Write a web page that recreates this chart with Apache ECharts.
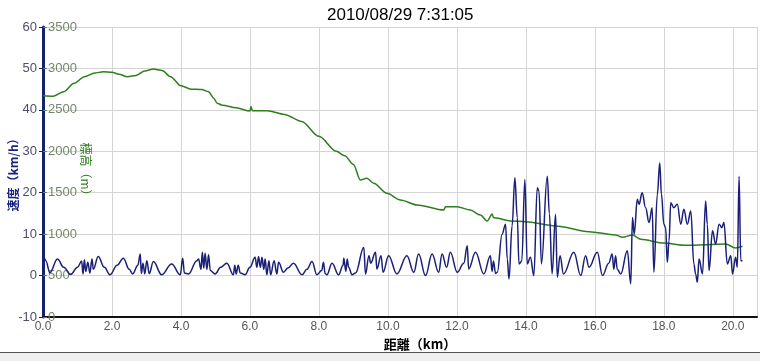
<!DOCTYPE html>
<html>
<head>
<meta charset="utf-8">
<title>速度・標高</title>
<script src="https://cdn.jsdelivr.net/npm/echarts@6/dist/echarts.min.js"></script>
<style>
    html, body { margin: 0; padding: 0; background: #fff; }
    #chart { width: 760px; height: 361px; }
</style>
</head>
<body>
<div id="chart"></div>
<script>
// 距離 (km) と標高 (m)
const elevKm = [0, 0.3, 0.6, 0.9, 1.2, 1.5, 1.75, 2.0, 2.2, 2.45, 2.7, 2.95, 3.2, 3.45, 3.7, 4.0, 4.3, 4.6, 4.8, 4.95,
    5.05, 5.2, 5.6, 6.0, 6.03, 6.07, 6.5, 7.0, 7.5, 8.0, 8.5, 8.75, 9.0, 9.2, 9.39, 9.59, 9.97, 10.36, 10.85, 11.62,
    11.67, 12.01, 12.39, 12.68, 12.88, 13.02, 13.06, 13.12, 13.55, 13.99, 14.86, 15.83, 16.6, 16.8, 17.09, 17.33,
    18.0, 18.63, 19.79, 20.08, 20.28];
const elevM = [2670, 2665, 2720, 2820, 2900, 2945, 2960, 2955, 2930, 2900, 2915, 2970, 2993, 2975, 2900, 2790, 2750, 2745, 2720, 2640,
    2580, 2555, 2525, 2485, 2540, 2490, 2490, 2445, 2360, 2180, 2000, 1945, 1840, 1654, 1674, 1614, 1493, 1412, 1352, 1291,
    1331, 1331, 1291, 1231, 1159, 1243, 1200, 1195, 1160, 1150, 1099, 1030, 991, 962, 991, 938,
    893, 865, 881, 833, 853];

// 距離 (km) と速度 (km/h)
const speedKm = [0.0, 0.02, 0.04, 0.08, 0.2, 0.42, 0.6, 0.8, 1.0, 1.12, 1.16, 1.2, 1.24, 1.3, 1.36, 1.42, 1.46, 1.6, 1.78, 1.94,
    2.15, 2.33, 2.5, 2.6, 2.75, 2.82, 2.85, 2.9, 2.95, 3.01, 3.08, 3.2, 3.44, 3.73, 3.98, 4.05, 4.1, 4.22, 4.46,
    4.51, 4.58, 4.62, 4.66, 4.7, 4.75, 4.8, 4.85, 4.99, 5.15, 5.33, 5.52, 5.56, 5.6, 5.66, 5.72, 5.86, 6.0,
    6.15, 6.2, 6.25, 6.3, 6.35, 6.4, 6.44, 6.49, 6.55, 6.6, 6.7, 6.78, 6.83, 6.97, 7.1, 7.26, 7.51, 7.65, 7.8,
    7.94, 8.08, 8.13, 8.18, 8.23, 8.38, 8.57, 8.7, 8.72, 8.78, 8.82, 8.86, 8.96,
    9.06, 9.3, 9.35, 9.45, 9.5, 9.64, 9.68, 9.8, 9.86, 10.02, 10.26, 10.55, 10.75, 10.89, 11.09, 11.28, 11.47,
    11.57, 11.7, 11.81, 12.01, 12.2, 12.3, 12.34, 12.54, 12.78, 12.97, 13.02, 13.06, 13.12, 13.17, 13.31, 13.41,
    13.46, 13.51, 13.6, 13.68, 13.75, 13.8, 13.88, 13.97, 14.04, 14.13, 14.23, 14.33, 14.38, 14.45, 14.62, 14.68,
    14.76, 14.86, 14.91, 14.99, 15.09, 15.39, 15.59, 15.73, 15.83, 16.07, 16.22, 16.4, 16.5, 16.55, 16.6, 16.65,
    16.75, 16.94, 17.04, 17.09, 17.14, 17.23, 17.28, 17.37, 17.47, 17.57, 17.66, 17.71, 17.81, 17.88, 17.93, 18.0,
    18.05, 18.1, 18.15, 18.2, 18.29, 18.39, 18.49, 18.58, 18.68, 18.78, 18.87, 18.92, 18.97, 19.02, 19.12, 19.21,
    19.26, 19.31, 19.41, 19.5, 19.6, 19.68, 19.74, 19.84, 19.94, 19.99, 20.08, 20.13, 20.18, 20.23, 20.28];
const speedKmh = [4.0, 1.5, 4.2, 3.6, 0.7, 4.0, 2.0, 0.3, 2.0, 3.5, 0.4, 3.8, 1.0, 3.2, 0.6, 4.0, 1.5, 4.6, 2.0, 0.2,
    2.5, 4.2, 1.5, 0.4, 2.5, 5.2, 0.5, 3.0, 0.4, 3.6, 0.5, 3.4, 0.2, 2.8, 0.2, 4.2, 0.6, 0.4, 3.6,
    4.0, 1.5, 5.6, 1.8, 5.4, 1.5, 5.0, 1.2, 0.4, 2.0, 3.0, 0.2, 2.5, 0.4, 2.5, 0.6, 0.2, 2.0,
    4.4, 2.0, 4.6, 2.0, 4.4, 1.5, 4.0, 0.2, 3.6, 0.2, 3.6, 0.4, 3.2, 0.8, 1.8, 3.0, 0.2, 1.5, 3.4,
    0.2, 1.2, 3.2, 0.5, 0.2, 3.0, 0.2, 2.5, 4.2, 1.0, 4.0, 2.0, 0.2,
    0.6, 6.8, 0.4, 4.8, 3.0, 5.6, 1.6, 4.8, 0.8, 4.8, 0.4, 4.8, 0.8, 5.2, 0.0, 5.2, 0.8,
    5.2, 2.0, 5.6, 0.8, 3.0, 7.2, 1.6, 5.6, 0.4, 4.8, 1.0, 3.5, 0.5, 0.8, 10.0, 12.4,
    4.0, -0.8, 12.0, 23.6, 14.0, 2.8, 3.5, 23.2, 2.8, 4.4, 0.0, 21.2, 20.4, 2.8, 24.0, 15.0,
    0.4, 14.8, -0.4, 4.8, 0.4, 5.6, 0.0, 4.8, 2.0, 5.6, 0.0, 3.0, 5.2, 1.5, 4.8, 1.5,
    0.4, 6.0, -2.0, 14.0, 10.0, 18.4, 17.2, 20.0, 16.4, 12.8, 16.4, 0.8, 19.6, 27.2, 19.6, 12.4,
    11.6, 3.2, 8.4, 17.6, 16.4, 17.2, 12.4, 16.0, 12.4, 15.6, 2.8, 0.4, -1.6, 4.0, 0.4, 18.0,
    12.4, 1.2, 10.8, 7.6, 12.4, 11.6, 12.8, 2.8, 4.8, 0.4, 4.4, 2.0, 24.0, 3.6, 3.6];

const elevData = elevKm.map((km, i) => [km, elevM[i]]);
const speedData = speedKm.map((km, i) => [km, speedKmh[i]]);

const myChart = echarts.init(document.getElementById('chart'));

const option = {
    animation: false,
    backgroundColor: '#fff',
    title: {
        text: '2010/08/29 7:31:05',
        left: 322,
        top: 2,
        textStyle: {
            color: '#000',
            fontSize: 17,
            fontWeight: 'normal',
            fontFamily: 'Liberation Sans'
        }
    },
    grid: {
        left: 43,
        right: 3,
        top: 27,
        bottom: 44,
        containLabel: false,
        outerBoundsMode: 'none'
    },
    xAxis: {
        type: 'value',
        min: 0,
        max: 20.7,
        interval: 2,
        name: '距離（km）',
        nameLocation: 'middle',
        nameGap: 19,
        nameTextStyle: {
            color: '#000',
            fontSize: 13,
            fontWeight: 'bold',
            padding: [0, 0, 0, 40],
            fontFamily: 'Noto Sans CJK JP'
        },
        axisLine: { onZero: false, lineStyle: { color: '#111', width: 2 } },
        axisTick: { show: false },
        axisLabel: {
            showMaxLabel: false,
            color: '#555',
            fontSize: 12,
            margin: 4,
            formatter: v => v.toFixed(1)
        },
        splitLine: { lineStyle: { color: '#d4d4d4' } }
    },
    yAxis: [{
        // 速度
        type: 'value',
        min: -10,
        max: 60,
        interval: 10,
        position: 'left',
        name: '速度（km/h）',
        nameLocation: 'middle',
        nameRotate: 90,
        nameGap: 24,
        nameMoveOverlap: false,
        nameTextStyle: {
            color: '#1a237e',
            fontSize: 12,
            fontWeight: 'bold',
            fontFamily: 'Noto Sans CJK JP'
        },
        axisLine: { show: true, lineStyle: { color: '#13236b', width: 3 } },
        axisTick: { show: true, length: 4, lineStyle: { color: '#13236b' } },
        axisLabel: { color: '#4d5066', fontSize: 13, margin: 6 },
        splitLine: { lineStyle: { color: '#d4d4d4' } }
    }, {
        // 標高
        type: 'value',
        min: 0,
        max: 3500,
        interval: 500,
        position: 'left',
        name: '標高（m）',
        nameLocation: 'middle',
        nameRotate: -90,
        nameGap: -49,
        nameMoveOverlap: false,
        nameTextStyle: {
            color: '#2e7d1e',
            fontSize: 12,
            fontFamily: 'Noto Sans CJK JP'
        },
        axisLine: { show: false },
        axisTick: { show: true, inside: true, length: 4, lineStyle: { color: '#6e7e62' } },
        axisLabel: { inside: true, color: '#75866a', fontSize: 13, margin: 5, formatter: v => String(v) },
        splitLine: { show: false }
    }],
    series: [{
        name: '標高',
        type: 'line',
        yAxisIndex: 1,
        data: elevData,
        showSymbol: false,
        smooth: 0.3,
        smoothMonotone: 'x',
        lineStyle: { color: '#2e7d1e', width: 1.5 },
        z: 2
    }, {
        name: '速度',
        type: 'line',
        yAxisIndex: 0,
        data: speedData,
        showSymbol: false,
        smooth: 0.4,
        smoothMonotone: 'x',
        lineStyle: { color: '#1a1f78', width: 1.5 },
        z: 3
    }],
    graphic: [{
        // 下のステータスバー
        type: 'rect',
        shape: { x: 0, y: 353, width: 760, height: 8 },
        style: { fill: '#efefef' }
    }, {
        type: 'line',
        shape: { x1: 0, y1: 352.5, x2: 760, y2: 352.5 },
        style: { stroke: '#555', lineWidth: 1 }
    }]
};

myChart.setOption(option);
</script>
</body>
</html>
